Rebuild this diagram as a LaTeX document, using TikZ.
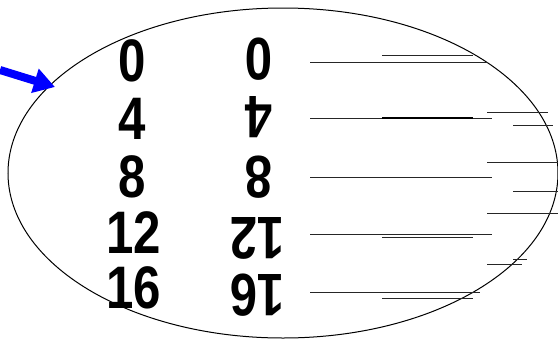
\documentclass[tikz,border=0pt]{standalone}
\usepackage{fontspec}
\setmainfont{Liberation Sans}
\usetikzlibrary{arrows.meta}
\begin{document}
\begin{tikzpicture}[x=1pt,y=-1pt,
  num/.style={font=\fontsize{60}{60}\selectfont\bfseries, inner sep=0pt, xscale=0.82},
  flip/.style={num, rotate=180},
  rule/.style={line width=1pt, black!85},
  heavy/.style={line width=2pt, black}]
\useasboundingbox (0,0) rectangle (558,341);
\fill[white] (0,0) rectangle (558,341);
\draw[line width=1pt] (283,173) ellipse [x radius=275pt, y radius=165pt];
% left column
\node[num] (l0) at (132,61) {0};
\node[num] (l4) at (132,119) {4};
\node[num] (l8) at (132,177) {8};
\node[num] (l12) at (134,233) {12};
\node[num] (l16) at (134,288) {16};
% right column (upside down)
\node[flip] (r0) at (259,59) {0};
\node[flip] (r4) at (259,117.5) {4};
\node[flip] (r8) at (259,177) {8};
\node[flip] (r12) at (257.5,238) {12};
\node[flip] (r16) at (257.5,295) {16};
% horizontal lines
\draw[rule] (382,55.7) -- (473,55.7);
\draw[rule] (310,62.3) -- (488,62.3);
\draw[rule] (487,112.7) -- (548,112.7);
\draw[rule] (310,118.3) -- (492,118.3);
\draw[heavy] (382,117.8) -- (473,117.8);
\draw[rule] (513,125) -- (553,125);
\draw[rule] (487,162.7) -- (558,162.7);
\draw[rule] (310,177.3) -- (492,177.3);
\draw[rule] (513,191.7) -- (558,191.7);
\draw[rule] (487,213.3) -- (558,213.3);
\draw[rule] (310,234.3) -- (492,234.3);
\draw[rule] (382,237.3) -- (473,237.3);
\draw[rule] (513,259) -- (527,259);
\draw[rule] (487,264.3) -- (522,264.3);
\draw[rule] (310,292.3) -- (480,292.3);
\draw[rule] (382,298.3) -- (473,298.3);
% blue arrow
\coordinate (tail) at (0,70);
\coordinate (tip) at (55,87);
\draw[blue, line width=8pt, -{Triangle[length=21pt,width=24pt]}] (tail) -- (tip);
\end{tikzpicture}
\end{document}
